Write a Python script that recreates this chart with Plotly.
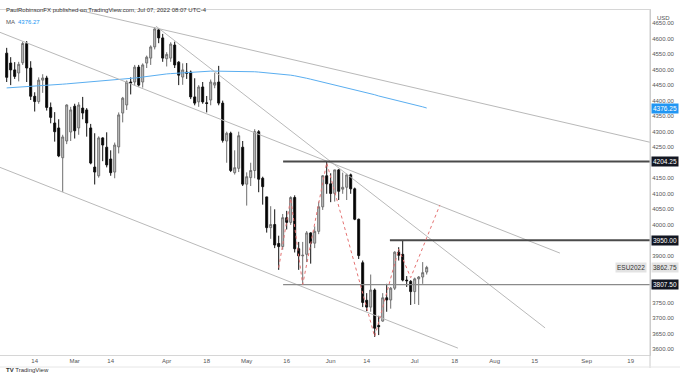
import plotly.graph_objects as go

# ---------------- data ----------------
dates = [
    "2022-02-03", "2022-02-04", "2022-02-07", "2022-02-08", "2022-02-09", "2022-02-10", "2022-02-11",
    "2022-02-14", "2022-02-15", "2022-02-16", "2022-02-17", "2022-02-18", "2022-02-22", "2022-02-23",
    "2022-02-24", "2022-02-25", "2022-02-28",
    "2022-03-01", "2022-03-02", "2022-03-03", "2022-03-04", "2022-03-07", "2022-03-08", "2022-03-09",
    "2022-03-10", "2022-03-11", "2022-03-14", "2022-03-15", "2022-03-16", "2022-03-17", "2022-03-18",
    "2022-03-21", "2022-03-22", "2022-03-23", "2022-03-24", "2022-03-25", "2022-03-28", "2022-03-29",
    "2022-03-30", "2022-03-31",
    "2022-04-01", "2022-04-04", "2022-04-05", "2022-04-06", "2022-04-07", "2022-04-08", "2022-04-11",
    "2022-04-12", "2022-04-13", "2022-04-14", "2022-04-18", "2022-04-19", "2022-04-20", "2022-04-21",
    "2022-04-22", "2022-04-25", "2022-04-26", "2022-04-27", "2022-04-28", "2022-04-29",
    "2022-05-02", "2022-05-03", "2022-05-04", "2022-05-05", "2022-05-06", "2022-05-09", "2022-05-10",
    "2022-05-11", "2022-05-12", "2022-05-13", "2022-05-16", "2022-05-17", "2022-05-18", "2022-05-19",
    "2022-05-20", "2022-05-23", "2022-05-24", "2022-05-25", "2022-05-26", "2022-05-27", "2022-05-31",
    "2022-06-01", "2022-06-02", "2022-06-03", "2022-06-06", "2022-06-07", "2022-06-08", "2022-06-09",
    "2022-06-10", "2022-06-13", "2022-06-14", "2022-06-15", "2022-06-16", "2022-06-17", "2022-06-21",
    "2022-06-22", "2022-06-23", "2022-06-24", "2022-06-27", "2022-06-28", "2022-06-29", "2022-06-30",
    "2022-07-01", "2022-07-05", "2022-07-06", "2022-07-07",
]

opens = [
    4553, 4521, 4499, 4489, 4522, 4584, 4505, 4414, 4397, 4466, 4473, 4378, 4328, 4312, 4216, 4270, 4299,
    4382, 4312, 4376, 4370, 4312, 4186, 4158, 4280, 4250, 4212, 4170, 4251, 4360, 4386,
    4460, 4460, 4508, 4460, 4521, 4537, 4573, 4628, 4602,
    4535, 4537, 4579, 4524, 4476, 4492, 4492, 4412, 4396, 4444, 4393, 4402, 4450, 4460,
    4392, 4270, 4295, 4168, 4182, 4250,
    4131, 4152, 4175, 4300, 4150, 4090, 3991, 4001, 3940, 3930, 4023, 4008, 4088, 3923,
    3900, 3905, 3974, 3941, 3979, 4058, 4158,
    4132, 4101, 4177, 4115, 4121, 4161, 4116, 4018, 3878, 3757, 3735, 3790, 3676, 3690,
    3765, 3758, 3796, 3912, 3905, 3822, 3818,
    3785, 3826, 3832, 3848,
]
highs = [
    4570, 4540, 4524, 4525, 4590, 4592, 4527, 4427, 4475, 4485, 4480, 4394, 4363, 4340, 4290, 4388, 4380,
    4390, 4395, 4412, 4376, 4325, 4295, 4285, 4282, 4298, 4240, 4265, 4362, 4412, 4465,
    4475, 4515, 4515, 4520, 4545, 4578, 4637, 4630, 4615,
    4556, 4588, 4590, 4527, 4520, 4521, 4497, 4472, 4450, 4460, 4415, 4468, 4490, 4512,
    4400, 4300, 4300, 4240, 4300, 4270,
    4169, 4200, 4308, 4305, 4155, 4090, 4060, 4050, 3965, 4035, 4045, 4092, 4095, 3945,
    3945, 3980, 3976, 3995, 4075, 4160, 4204.25,
    4166, 4177, 4180, 4168, 4165, 4165, 4120, 4020, 3885, 3780, 3840, 3795, 3707, 3780,
    3810, 3800, 3915, 3928, 3950, 3835, 3822,
    3830, 3835, 3880, 3868,
]
lows = [
    4460, 4450, 4470, 4462, 4515, 4460, 4402, 4365, 4390, 4425, 4368, 4327, 4268, 4218, 4106, 4260, 4270,
    4278, 4290, 4340, 4284, 4195, 4130, 4152, 4205, 4185, 4158, 4150, 4230, 4330, 4370,
    4420, 4448, 4445, 4442, 4505, 4515, 4565, 4585, 4525,
    4510, 4525, 4505, 4450, 4451, 4470, 4405, 4385, 4380, 4390, 4362, 4385, 4440, 4385,
    4265, 4200, 4170, 4162, 4170, 4125,
    4062, 4125, 4150, 4105, 4065, 3975, 3955, 3925, 3855, 3920, 3985, 4000, 3911, 3855,
    3807.5, 3880, 3875, 3925, 3970, 4048, 4100,
    4073, 4075, 4080, 4100, 4080, 4100, 4015, 3890, 3735, 3722, 3720, 3639, 3645, 3688,
    3720, 3730, 3790, 3885, 3818, 3800, 3742,
    3745, 3742, 3810, 3840,
]
closes = [
    4475, 4499, 4478, 4517, 4584, 4505, 4414, 4397, 4466, 4473, 4378, 4346, 4300, 4222, 4283, 4386, 4370,
    4303, 4386, 4360, 4328, 4199, 4170, 4280, 4257, 4193, 4168, 4257, 4354, 4408, 4460,
    4457, 4508, 4450, 4515, 4540, 4573, 4631, 4602, 4537,
    4549, 4582, 4515, 4482, 4499, 4488, 4412, 4392, 4444, 4396, 4391, 4460, 4458, 4392,
    4272, 4295, 4175, 4184, 4287, 4131,
    4155, 4175, 4300, 4147, 4123, 3991, 4001, 3935, 3930, 4023, 4008, 4088, 3923, 3900,
    3902, 3974, 3941, 3979, 4058, 4158, 4132,
    4101, 4177, 4108, 4121, 4161, 4116, 4018, 3901, 3750, 3735, 3790, 3667, 3672, 3765,
    3758, 3796, 3912, 3902, 3822, 3820, 3785,
    3826, 3832, 3846, 3862.75,
]
ma200 = [
    4441, 4442, 4442, 4443, 4444, 4445, 4446, 4446, 4447, 4448, 4449, 4450, 4451, 4452, 4453, 4454, 4455,
    4456, 4457, 4458, 4459, 4460, 4461, 4462, 4463, 4464, 4465, 4466, 4467, 4468, 4469,
    4470, 4472, 4474, 4476, 4478, 4480, 4482, 4484, 4485,
    4486, 4487, 4488, 4489, 4490, 4491, 4492, 4493, 4494, 4494, 4495, 4495, 4495, 4495,
    4495, 4495, 4495, 4495, 4494, 4494,
    4494, 4493, 4493, 4492, 4491, 4490, 4489, 4488, 4487, 4485, 4484, 4482, 4480, 4478,
    4475, 4472, 4469, 4466, 4463, 4460, 4457,
    4454, 4451, 4448, 4445, 4442, 4439, 4436, 4433, 4429, 4426, 4422, 4419, 4415, 4412,
    4408, 4405, 4401, 4398, 4395, 4392, 4389,
    4386, 4383, 4380, 4376.27,
]

tick_positions = [7, 17, 26, 40, 50, 60, 70, 81, 90, 102, 112, 122, 132, 145, 156]
tick_labels = ["14", "Mar", "14", "Apr", "18", "May", "16", "Jun", "14", "Jul", "18", "Aug", "15", "Sep", "19"]
# price scale labels (those hidden behind the level boxes in the reference are left out)
price_ticks = [3600, 3650, 3700, 3750, 3900, 4000, 4050, 4100, 4150,
               4250, 4300, 4350, 4400, 4450, 4500, 4550, 4600, 4650]

# drawn trendlines (bar index, price)
trend_x = [[17.8, 160.8], [37.3, 134.6], [-1.675, 138.3], [-1.675, 112.8]]
trend_y = [[4692, 4266], [4640, 3668], [4620, 3909], [4185, 3603]]

level_prices = [4204.25, 3950.00, 3807.50]
level_starts = [69.1, 95.8, 69.1]
level_colors = ["#4a4a4a", "#4a4a4a", "#8a8a8a"]
level_widths = [2, 2, 1.2]

zig_x = [68, 71, 74, 80, 92, 98, 101, 108.3]
zig_y = [3862, 4085, 3808, 4200, 3640, 3922, 3830, 4064]

x_range = [-1.675, 160.825]
y_range = [3580.8, 4691.9]
font_family = "Liberation Sans, Arial, sans-serif"

bars = list(range(len(dates)))

fig = go.Figure()

fig.add_trace(go.Candlestick(
    x=bars, open=opens, high=highs, low=lows, close=closes,
    increasing=dict(line=dict(color="#6e6e6e", width=1), fillcolor="#c8c8c8"),
    decreasing=dict(line=dict(color="#111111", width=1), fillcolor="#000000"),
    whiskerwidth=0, showlegend=False, hoverinfo="skip",
))

fig.add_trace(go.Scatter(x=bars, y=ma200, mode="lines",
                         line=dict(color="#5aaef0", width=1), showlegend=False, hoverinfo="skip"))

for tx, ty in zip(trend_x, trend_y):
    fig.add_trace(go.Scatter(x=tx, y=ty, mode="lines",
                             line=dict(color="#b9b9b9", width=1), showlegend=False, hoverinfo="skip"))

for p, s, c, w in zip(level_prices, level_starts, level_colors, level_widths):
    fig.add_trace(go.Scatter(x=[s, x_range[1]], y=[p, p], mode="lines",
                             line=dict(color=c, width=w), showlegend=False, hoverinfo="skip"))

fig.add_trace(go.Scatter(x=zig_x, y=zig_y, mode="lines",
                         line=dict(color="#e57373", width=1, dash="dot"), showlegend=False, hoverinfo="skip"))

annotations = []
# price-scale boxes
for p in level_prices:
    annotations.append(dict(x=1, xref="paper", xanchor="left", xshift=1, y=p, yref="y",
                            text=f"{p:.2f}", showarrow=False, bgcolor="#131722",
                            font=dict(color="white", size=6.5, family=font_family), borderpad=1))
annotations.append(dict(x=1, xref="paper", xanchor="left", xshift=1, y=4376.25, yref="y",
                        text="4376.25", showarrow=False, bgcolor="#2196f3",
                        font=dict(color="white", size=6.5, family=font_family), borderpad=1))
annotations.append(dict(x=1, xref="paper", xanchor="left", xshift=1, y=closes[-1], yref="y",
                        text=f"{closes[-1]:.2f}", showarrow=False, bgcolor="#e3e3e3",
                        font=dict(color="#333", size=6.5, family=font_family), borderpad=1))
annotations.append(dict(x=1, xref="paper", xanchor="right", xshift=-3, y=closes[-1], yref="y",
                        text="ESU2022", showarrow=False, bgcolor="#e3e3e3",
                        font=dict(color="#333", size=6.5, family=font_family), borderpad=1))
annotations.append(dict(x=1, xref="paper", xanchor="left", xshift=5, y=(355 - 13) / 345, yref="paper",
                        text="USD", showarrow=False, font=dict(color="#555", size=6, family=font_family)))
# header and legend
annotations.append(dict(x=0.006, xref="paper", xanchor="left", y=(355 - 5) / 345, yref="paper",
                        text="PaulRobinsonFX published on TradingView.com, Jul 07, 2022 08:07 UTC-4",
                        showarrow=False, font=dict(color="#333", size=6, family=font_family)))
annotations.append(dict(x=0.006, xref="paper", xanchor="left", y=(355 - 17) / 345, yref="paper",
                        text="MA  <span style='color:#2196f3'>4376.27</span>",
                        showarrow=False, font=dict(color="#555", size=6, family=font_family)))
annotations.append(dict(x=0.006, xref="paper", xanchor="left", y=(355 - 375) / 345, yref="paper",
                        text="<b>TV</b> TradingView",
                        showarrow=False, font=dict(color="#333", size=6, family=font_family)))

shapes = [
    dict(type="line", xref="paper", yref="paper", x0=1, x1=1, y0=(355 - 368) / 345, y1=1,
         line=dict(color="#cccccc", width=1)),
    dict(type="line", xref="paper", yref="paper", x0=0, x1=680 / 650, y0=(355 - 367) / 345, y1=(355 - 367) / 345,
         line=dict(color="#e6e6e6", width=1)),
]

fig.update_layout(
    width=680, height=380,
    margin=dict(l=0, r=30, t=10, b=25),
    paper_bgcolor="white", plot_bgcolor="white",
    font=dict(family=font_family, size=6, color="#555"),
    showlegend=False,
    annotations=annotations,
    shapes=shapes,
    hovermode=False,
    xaxis=dict(range=x_range, tickmode="array", tickvals=tick_positions, ticktext=tick_labels,
               showgrid=False, zeroline=False, rangeslider=dict(visible=False),
               showline=True, linecolor="#d6d6d6", mirror=True, ticks="",
               tickfont=dict(size=6, color="#555")),
    yaxis=dict(range=y_range, side="right", tickmode="array", tickvals=price_ticks,
               ticktext=[f"{v:.2f}" for v in price_ticks],
               showgrid=False, zeroline=False, showline=True, linecolor="#cccccc", ticks="",
               tickfont=dict(size=6, color="#555")),
)

fig.write_html("out.html", config={"displayModeBar": False},
               post_script="document.body.style.margin='0';document.body.style.overflow='hidden';")
